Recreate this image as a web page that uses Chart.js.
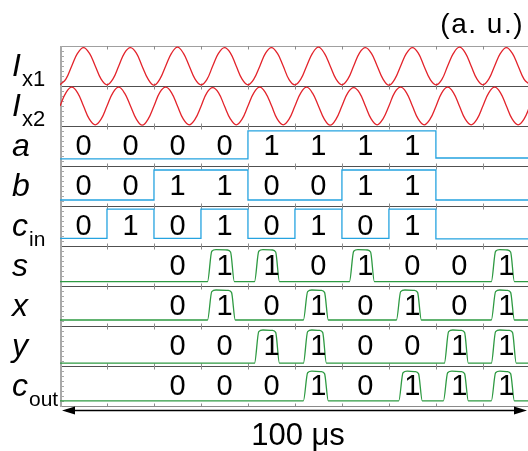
<!DOCTYPE html>
<html>
<head>
<meta charset="utf-8">
<script src="https://cdn.jsdelivr.net/npm/chart.js@4/dist/chart.umd.min.js"></script>
<style>
  body { margin: 0; background: #fff; }
</style>
</head>
<body>
<canvas id="grafico_sinais" width="528" height="451"></canvas>
<script>
// ----------------------- dados --------------------------------------------//

// linhas de cima para baixo
var rowNames = ['Ix1', 'Ix2', 'a', 'b', 'cin', 's', 'x', 'y', 'cout'];

// correntes senoidais, amostras a cada 1/8 de periodo (t = 0 ... 10)
var ix1Vals = [
  0.03, 0.17, 0.50, 0.82, 0.96, 0.82, 0.50, 0.17,
  0.03, 0.17, 0.50, 0.83, 0.96, 0.82, 0.49, 0.17,
  0.02, 0.17, 0.50, 0.82, 0.97, 0.82, 0.50, 0.17,
  0.03, 0.16, 0.50, 0.82, 0.96, 0.83, 0.50, 0.17,
  0.03, 0.17, 0.49, 0.82, 0.96, 0.82, 0.50, 0.16,
  0.03, 0.17, 0.50, 0.82, 0.97, 0.82, 0.50, 0.17,
  0.03, 0.17, 0.50, 0.83, 0.96, 0.82, 0.50, 0.17,
  0.02, 0.17, 0.50, 0.82, 0.96, 0.82, 0.49, 0.17,
  0.03, 0.16, 0.50, 0.82, 0.97, 0.83, 0.50, 0.17,
  0.03, 0.17, 0.50, 0.82, 0.96, 0.82, 0.50, 0.17,
  0.03
];
var ix2Vals = [
  0.50, 0.83, 0.97, 0.83, 0.50, 0.17, 0.03, 0.17,
  0.50, 0.83, 0.97, 0.82, 0.50, 0.17, 0.02, 0.17,
  0.50, 0.84, 0.97, 0.83, 0.50, 0.17, 0.03, 0.17,
  0.49, 0.83, 0.96, 0.83, 0.50, 0.18, 0.03, 0.17,
  0.50, 0.83, 0.97, 0.83, 0.51, 0.17, 0.03, 0.17,
  0.50, 0.83, 0.97, 0.82, 0.50, 0.17, 0.02, 0.17,
  0.50, 0.83, 0.96, 0.83, 0.50, 0.17, 0.03, 0.18,
  0.50, 0.84, 0.97, 0.83, 0.50, 0.17, 0.03, 0.17,
  0.49, 0.83, 0.97, 0.83, 0.50, 0.17, 0.03, 0.17,
  0.50, 0.83, 0.97, 0.83, 0.50, 0.17, 0.03, 0.17,
  0.50
];

// entradas digitais: instantes das bordas e nivel em cada trecho
var aEdges = [0, 4, 8, 10];
var aLevels = [0.18, 0.88, 0.20];
var bEdges = [0, 2, 4, 6, 8, 10];
var bLevels = [0.15, 0.90, 0.15, 0.90, 0.15];
var cinEdges = [0, 1, 2, 3, 4, 5, 6, 7, 8, 10];
var cinLevels = [0.19, 0.92, 0.19, 0.92, 0.19, 0.92, 0.19, 0.92, 0.18];

// saidas: subida / descida de cada pulso
var sRise = [3.19, 4.19, 6.21, 9.23];
var sFall = [3.66, 4.62, 6.64, 9.62];
var xRise = [3.19, 5.23, 7.21, 9.23];
var xFall = [3.68, 5.66, 7.64, 9.62];
var yRise = [4.19, 5.23, 8.23, 9.23];
var yFall = [4.62, 5.62, 8.64, 9.66];
var coutRise = [5.23, 7.26, 8.21, 9.23];
var coutFall = [5.66, 7.66, 8.64, 9.62];
var sLow = 0.11, sHigh = 0.91;
var xLow = 0.15, xHigh = 0.90;
var yLow = 0.07, yHigh = 0.90;
var coutLow = 0.13, coutHigh = 0.87;

// bits escritos em cada linha
var aBits = ['0', '0', '0', '0', '1', '1', '1', '1'];
var bBits = ['0', '0', '1', '1', '0', '0', '1', '1'];
var cinBits = ['0', '1', '0', '1', '0', '1', '0', '1'];
var sBits = ['0', '1', '1', '0', '1', '0', '0', '1'];
var xBits = ['0', '1', '0', '1', '0', '1', '0', '1'];
var yBits = ['0', '0', '1', '1', '0', '0', '1', '1'];
var coutBits = ['0', '0', '0', '1', '0', '1', '1', '1'];
var inBitStart = 0.5;   // primeiro bit das entradas
var outBitStart = 2.5;  // primeiro bit das saidas

var timeLabel = '100 \u03bcs';
var unitLabel = '(a. u.)';

// ----------------------- montagem --------------------------------------------//

function base(name) { return rowNames.length - 1 - rowNames.indexOf(name); }

function sinePoints(vals, name) {
  var b = base(name);
  return vals.map(function (v, i) { return { x: i / 8, y: b + v }; });
}

function squarePoints(edges, levels, name) {
  var b = base(name), pts = [];
  for (var i = 0; i < levels.length; i++) {
    pts.push({ x: edges[i], y: b + levels[i] });
    pts.push({ x: edges[i + 1], y: b + levels[i] });
  }
  return pts;
}

function pulsePoints(rise, fall, lo, hi, name) {
  var b = base(name), pts = [{ x: 0, y: b + lo }];
  for (var i = 0; i < rise.length; i++) {
    pts.push({ x: rise[i] - 0.05, y: b + lo });
    pts.push({ x: rise[i] + 0.04, y: b + hi - 0.04 });
    pts.push({ x: rise[i] + 0.13, y: b + hi });
    pts.push({ x: fall[i] - 0.1, y: b + hi - 0.01 });
    pts.push({ x: fall[i] - 0.03, y: b + hi - 0.06 });
    pts.push({ x: fall[i] + 0.05, y: b + lo });
  }
  pts.push({ x: 10, y: b + lo });
  return pts;
}

var RED = '#e3232b', BLUE = '#25a3e0', GREEN = '#2e9a42';

function ds(points, color, smooth) {
  return {
    data: points,
    borderColor: color,
    borderWidth: 1.3,
    pointRadius: 0,
    fill: false,
    tension: smooth ? 0.4 : 0,
    cubicInterpolationMode: smooth === 'mono' ? 'monotone' : 'default'
  };
}

var datasets = [
  ds(sinePoints(ix1Vals, 'Ix1'), RED, true),
  ds(sinePoints(ix2Vals, 'Ix2'), RED, true),
  ds(squarePoints(aEdges, aLevels, 'a'), BLUE, false),
  ds(squarePoints(bEdges, bLevels, 'b'), BLUE, false),
  ds(squarePoints(cinEdges, cinLevels, 'cin'), BLUE, false),
  ds(pulsePoints(sRise, sFall, sLow, sHigh, 's'), GREEN, 'mono'),
  ds(pulsePoints(xRise, xFall, xLow, xHigh, 'x'), GREEN, 'mono'),
  ds(pulsePoints(yRise, yFall, yLow, yHigh, 'y'), GREEN, 'mono'),
  ds(pulsePoints(coutRise, coutFall, coutLow, coutHigh, 'cout'), GREEN, 'mono')
];

var bitRows = [
  ['a', aBits, inBitStart], ['b', bBits, inBitStart], ['cin', cinBits, inBitStart],
  ['s', sBits, outBitStart], ['x', xBits, outBitStart], ['y', yBits, outBitStart],
  ['cout', coutBits, outBitStart]
];

var rowLabels = {
  Ix1: ['I', 'x1'], Ix2: ['I', 'x2'], a: ['a', ''], b: ['b', ''], cin: ['c', 'in'],
  s: ['s', ''], x: ['x', ''], y: ['y', ''], cout: ['c', 'out']
};

// ----------------------- desenho extra (grade, textos, seta) --------------------------------------------//

var FONT = '"Liberation Sans", Arial, sans-serif';

var decor = {
  id: 'decor',
  beforeDatasetsDraw: function (chart) {
    var ctx = chart.ctx, area = chart.chartArea;
    var xs = chart.scales.x, ys = chart.scales.y;
    ctx.save();
    // separadores das linhas
    for (var k = 0; k <= rowNames.length; k++) {
      var y = Math.round(ys.getPixelForValue(k)) + 0.5;
      ctx.strokeStyle = (k === rowNames.length) ? '#a0a0a0' : (k === 0 ? '#8a8a8a' : '#505050');
      ctx.lineWidth = 1;
      ctx.beginPath(); ctx.moveTo(area.left, y); ctx.lineTo(area.right, y); ctx.stroke();
      // marcas de tempo
      ctx.strokeStyle = '#8c8c8c';
      for (var t = 1; t < 10; t++) {
        var x = Math.round(xs.getPixelForValue(t)) + 0.5;
        ctx.beginPath();
        ctx.moveTo(x, Math.max(area.top, y - 3));
        ctx.lineTo(x, Math.min(area.bottom, y + 3));
        ctx.stroke();
      }
    }
    // marcas menores no eixo da esquerda
    ctx.strokeStyle = '#a8a8a8';
    for (var r = 0; r < rowNames.length; r++) {
      for (var j = 1; j < 8; j++) {
        var yy = Math.round(ys.getPixelForValue(r + j / 8)) + 0.5;
        ctx.beginPath(); ctx.moveTo(area.left, yy); ctx.lineTo(area.left + 4, yy); ctx.stroke();
      }
    }
    ctx.lineWidth = 2;
    ctx.strokeStyle = '#a8a8a8';
    ctx.beginPath(); ctx.moveTo(area.left + 1, area.top); ctx.lineTo(area.left + 1, area.bottom + 1); ctx.stroke();
    ctx.restore();
  },
  afterDatasetsDraw: function (chart) {
    var ctx = chart.ctx, area = chart.chartArea;
    var xs = chart.scales.x, ys = chart.scales.y;
    ctx.save();
    ctx.fillStyle = '#000';
    // bits
    ctx.font = '29px ' + FONT;
    ctx.textAlign = 'center';
    ctx.textBaseline = 'alphabetic';
    bitRows.forEach(function (row) {
      var yb = ys.getPixelForValue(base(row[0])) - 11;
      row[1].forEach(function (bit, i) {
        ctx.fillText(bit, xs.getPixelForValue(row[2] + i), yb);
      });
    });
    // nomes das linhas
    ctx.textAlign = 'left';
    rowNames.forEach(function (name) {
      var bottom = ys.getPixelForValue(base(name));
      var lab = rowLabels[name];
      ctx.font = 'italic 32px ' + FONT;
      ctx.fillText(lab[0], 12, bottom - 10);
      var w = ctx.measureText(lab[0]).width;
      if (lab[1]) {
        ctx.font = (lab[0] === 'I' ? '22px ' : '21px ') + FONT;
        ctx.fillText(lab[1], 12 + w + 1, bottom);
      }
    });
    // unidade
    ctx.font = '28px ' + FONT;
    ctx.textAlign = 'right';
    ctx.letterSpacing = '1.5px';
    ctx.fillText(unitLabel, 524, 33);
    ctx.letterSpacing = '0px';
    // seta do tempo
    var ya = area.bottom + 4.5;
    ctx.strokeStyle = '#000';
    ctx.lineWidth = 1.3;
    ctx.beginPath(); ctx.moveTo(area.left + 6, ya); ctx.lineTo(area.right - 6, ya); ctx.stroke();
    ctx.beginPath();
    ctx.moveTo(area.left + 2, ya); ctx.lineTo(area.left + 15, ya - 4); ctx.lineTo(area.left + 15, ya + 4); ctx.closePath(); ctx.fill();
    ctx.beginPath();
    ctx.moveTo(area.right - 1, ya); ctx.lineTo(area.right - 14, ya - 4); ctx.lineTo(area.right - 14, ya + 4); ctx.closePath(); ctx.fill();
    ctx.font = '31px ' + FONT;
    ctx.textAlign = 'center';
    ctx.fillText(timeLabel, 298, 445);
    ctx.restore();
  }
};

var ctx = document.getElementById('grafico_sinais').getContext('2d');
var grafico_sinais = new Chart(ctx, {
  type: 'line',
  data: { datasets: datasets },
  options: {
    responsive: false,
    animation: false,
    events: [],
    layout: { padding: { left: 60, right: 0, top: 46, bottom: 45 } },
    scales: {
      x: { type: 'linear', min: 0, max: 9.96, display: false },
      y: { min: 0, max: 9, display: false }
    },
    plugins: { legend: { display: false }, tooltip: { enabled: false } }
  },
  plugins: [decor]
});
</script>
</body>
</html>
